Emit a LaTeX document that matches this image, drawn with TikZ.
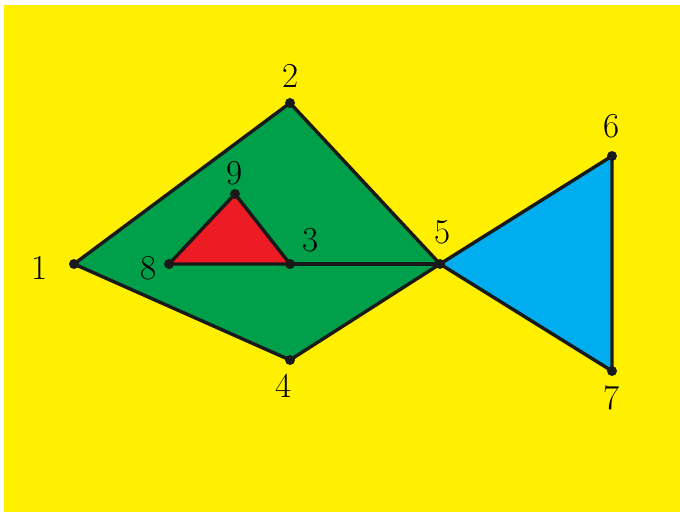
\documentclass[tikz,border=0pt]{standalone}
\begin{document}
\begin{tikzpicture}[x=1pt,y=-1pt,
  edge/.style={draw=black!90,line width=3.4pt,line join=round},
  dot/.style={circle,fill=black!90,inner sep=0pt,minimum size=10pt},
  lbl/.style={font=\fontsize{35}{38}\selectfont,inner sep=0pt}]
\definecolor{bgyellow}{RGB}{255,240,0}
\definecolor{fgreen}{RGB}{0,160,75}
\definecolor{fred}{RGB}{237,28,36}
\definecolor{fcyan}{RGB}{0,174,239}
\useasboundingbox (0,0) rectangle (680,515);
\fill[bgyellow] (4,5) rectangle (680,512);
\coordinate (p1) at (74,264);
\coordinate (p2) at (290,103);
\coordinate (p3) at (290,264);
\coordinate (p4) at (290,360);
\coordinate (p5) at (440,264);
\coordinate (p6) at (612,156);
\coordinate (p7) at (612,371);
\coordinate (p8) at (169,264);
\coordinate (p9) at (235,194);
\path[edge,fill=fgreen] (p1) -- (p2) -- (p5) -- (p4) -- cycle;
\path[edge,fill=fcyan] (p5) -- (p6) -- (p7) -- cycle;
\path[edge,fill=fred] (p8) -- (p9) -- (p3) -- cycle;
\draw[edge] (p3) -- (p5);
\foreach \i in {1,...,9} \node[dot] (d\i) at (p\i) {};
\node[lbl] (l1) at (40,268) {1};
\node[lbl] (l2) at (291,76) {2};
\node[lbl] (l3) at (311,240) {3};
\node[lbl] (l4) at (284,386) {4};
\node[lbl] (l5) at (443,232) {5};
\node[lbl] (l6) at (612,126) {6};
\node[lbl] (l7) at (612,398) {7};
\node[lbl] (l8) at (149,268) {8};
\node[lbl] (l9) at (235,173) {9};
\end{tikzpicture}
\end{document}
